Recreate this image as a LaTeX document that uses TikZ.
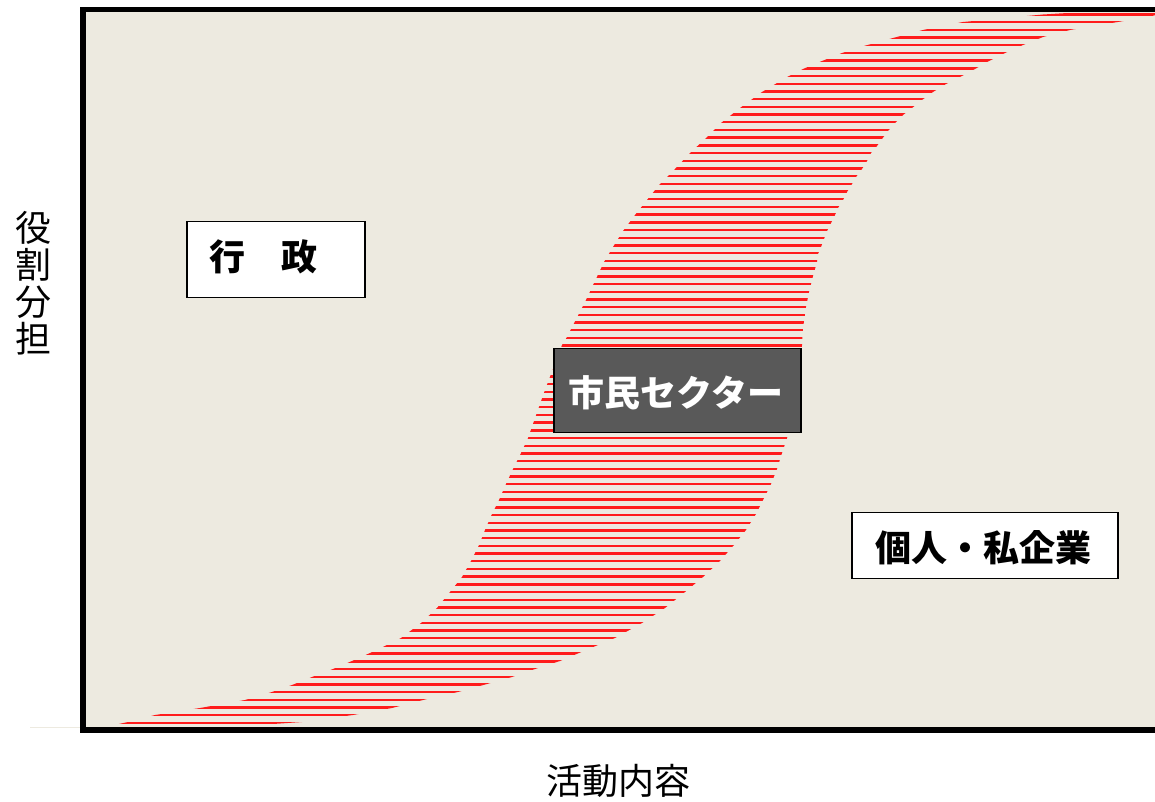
\documentclass[tikz,border=0pt]{standalone}
\usepackage{fontspec}
\newfontfamily\cjk{Noto Sans CJK JP}
\definecolor{bgbeige}{RGB}{237,234,224}
\definecolor{stripered}{RGB}{255,28,28}
\definecolor{boxgrey}{RGB}{89,89,89}
\begin{document}
\begin{tikzpicture}[x=1pt,y=-1pt,
  stripe/.style={stripered, line width=2.4pt},
  whitebox/.style={draw=black, line width=1.5pt, fill=white, inner sep=0pt},
  darkbox/.style={draw=black, line width=1.5pt, fill=boxgrey, inner sep=0pt},
  boxlabel/.style={font=\cjk\bfseries\fontsize{36}{40}\selectfont, inner sep=0pt},
  axislabel/.style={font=\cjk\fontsize{36}{37}\selectfont, inner sep=0pt, align=center}]
\useasboundingbox (0,0) rectangle (1155,802);
% background of the plot area
\fill[bgbeige] (83,9.5) rectangle (1160,730);
\draw[bgbeige, line width=1pt] (30,727) -- (83,727);
% striped S-shaped band
\begin{scope}
\clip (105,727) -- (128,722) -- (155,715) -- (200,708) -- (245,700) -- (272,692) -- (292,685) -- (312,677) -- (333,669) -- (352,661) -- (370,653) -- (387,645) -- (401,638) -- (421,623) -- (437,608) -- (450,592) -- (462,577) -- (471,561) -- (479,545) -- (485,530) -- (492,514) -- (499,500) -- (506,484) -- (513,469) -- (521,453) -- (528,438) -- (545,390) -- (562,345) -- (567,337) -- (586,300) -- (604,262) -- (613,247) -- (623,231) -- (635,215) -- (647,200) -- (660,184) -- (675,169) -- (690,153) -- (705,139) -- (721,123) -- (740,108) -- (762,92) -- (787,77) -- (803,69) -- (822,61) -- (842,53) -- (865,45.7) -- (893,38) -- (923,30) -- (963,22) -- (1043,14.5) -- (1100,11) -- (1160,10)
 -- (1160,14.5) -- (1118,22) -- (1070,30) -- (1043,37) -- (1023,45) -- (1005,53) -- (989,61) -- (975,69) -- (960,77) -- (946,84) -- (933,92) -- (922,100) -- (912,108) -- (903,115) -- (895,123) -- (888,131) -- (882,139) -- (877,146) -- (871,153) -- (867,161) -- (862,169) -- (856,177) -- (852,184) -- (847,192) -- (843,200) -- (838,208) -- (835,215) -- (831,223) -- (827,231) -- (824,239) -- (821,247) -- (818,254) -- (817,262) -- (813,276) -- (809,292) -- (806,307) -- (803,328) -- (802,345) -- (801,377) -- (799,395) -- (795,415) -- (787,438) -- (782,453) -- (777,469) -- (771,484) -- (763,500) -- (756,514) -- (746,530) -- (734,545) -- (720,561) -- (703,577) -- (685,592) -- (665,608) -- (642,623) -- (615,638) -- (598,645) -- (579,653) -- (560,661) -- (535,669) -- (512,677) -- (487,684) -- (458,692) -- (427,699) -- (392,708) -- (353,715) -- (302,722) -- (230,727) -- cycle;
\foreach \n in {0,...,92} {
  \draw[stripe] (80,{14.5+7.7*\n}) -- (1160,{14.5+7.7*\n});
}
\end{scope}
% frame
\draw[black, line width=5.5pt, line join=miter] (1160,9.5) -- (83,9.5) -- (83,730) -- (1160,730);
% boxes
\node[whitebox, minimum width=178pt, minimum height=76pt] (gyoseibox) at (276,259.5) {};
\node[boxlabel] (gyosei) at (263,257) {行　政};
\node[darkbox, minimum width=247pt, minimum height=84pt] (shiminbox) at (677.5,390.5) {};
\node[boxlabel, text=white] (shimin) at (676,393) {市民セクター};
\node[whitebox, minimum width=266pt, minimum height=66pt] (kojinbox) at (985,545.5) {};
\node[boxlabel] (kojin) at (983,548) {個人・私企業};
% axis labels
\node[axislabel] (yaxis) at (33,283) {役\\割\\分\\担};
\node[axislabel] (xaxis) at (618,781) {活動内容};
\end{tikzpicture}
\end{document}
